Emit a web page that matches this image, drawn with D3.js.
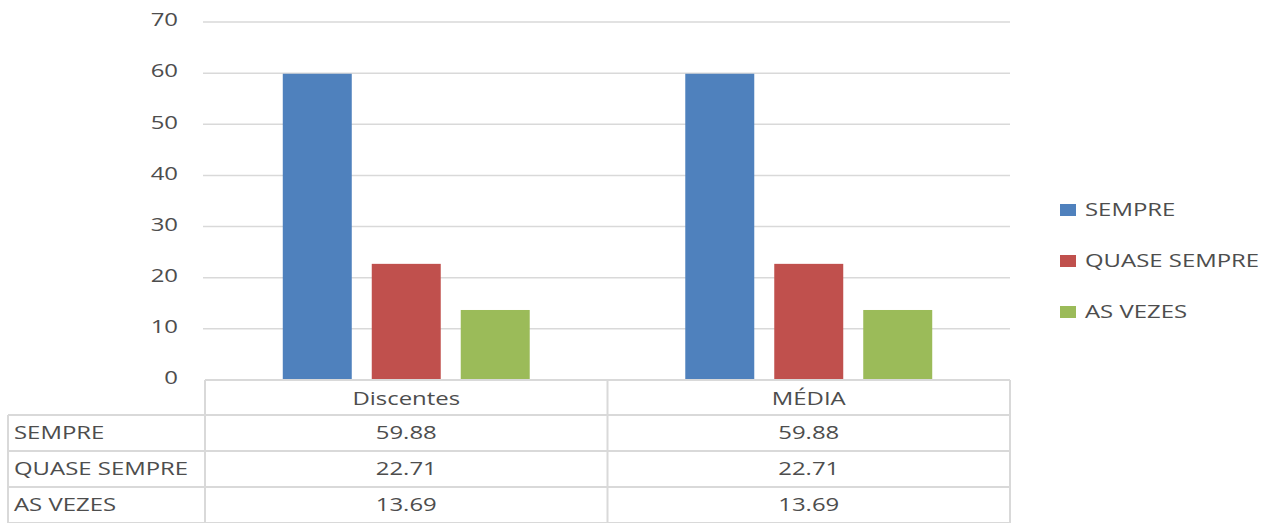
<!DOCTYPE html>
<html lang="pt">
<head>
<meta charset="utf-8">
<title>SEMPRE / QUASE SEMPRE / AS VEZES</title>
<script src="https://cdn.jsdelivr.net/npm/d3@7/dist/d3.min.js"></script>
<style>
    body { margin: 0; background: #fff; }
    text { font-family: "Open Sans", "Liberation Sans", sans-serif; fill: #4d4d4d; font-size: 18px; }
    .grid line { stroke: #d9d9d9; stroke-width: 1.5; }
    .tbl line { stroke: #d9d9d9; stroke-width: 2; }
</style>
</head>
<body>
<div id="chart"></div>
<script>
var categories = ["Discentes", "MÉDIA"];
var series = ["SEMPRE", "QUASE SEMPRE", "AS VEZES"];
var sempre = [59.88, 59.88];
var quaseSempre = [22.71, 22.71];
var asVezes = [13.69, 13.69];
var yTicks = [0, 10, 20, 30, 40, 50, 60, 70];
var colors = ["#4f81bd", "#c0504d", "#9bbb59"];

var values = [sempre, quaseSempre, asVezes];

var width = 1277, height = 523;
var plotLeft = 205, plotRight = 1010, plotTop = 22, plotBottom = 380;
var rowH = 36, headH = 35, labelLeft = 8;
var sx = 1.33; // the original text is drawn wide

var svg = d3.select("#chart").append("svg")
    .attr("width", width)
    .attr("height", height);

var x0 = d3.scaleBand().domain(categories).range([plotLeft, plotRight]);
var x1 = d3.scaleBand().domain(series)
    .range([0, x0.bandwidth()])
    .paddingInner(0.2247)
    .paddingOuter(0.874);
var y = d3.scaleLinear().domain([0, 70]).range([plotBottom, plotTop]);
var color = d3.scaleOrdinal().domain(series).range(colors);

function place(fx, fy) {
    return function(d, i) {
        return "translate(" + fx(d, i) + "," + fy(d, i) + ") scale(" + sx + ",1)";
    };
}

// gridlines
svg.append("g").attr("class", "grid")
    .selectAll("line")
    .data(yTicks.filter(function(d) { return d > 0; }))
    .enter().append("line")
    .attr("x1", plotLeft - 2).attr("x2", plotRight)
    .attr("y1", function(d) { return y(d); })
    .attr("y2", function(d) { return y(d); });

// y labels
svg.append("g").selectAll("text")
    .data(yTicks)
    .enter().append("text")
    .attr("transform", place(function() { return 178; }, function(d) { return y(d) - 2; }))
    .attr("dy", "0.35em")
    .attr("text-anchor", "end")
    .text(function(d) { return d; });

// bars
var bars = [];
series.forEach(function(s, i) {
    categories.forEach(function(c, j) {
        bars.push({ series: s, cat: c, value: values[i][j] });
    });
});

svg.append("g").selectAll("rect")
    .data(bars)
    .enter().append("rect")
    .attr("x", function(d) { return x0(d.cat) + x1(d.series); })
    .attr("y", function(d) { return y(d.value); })
    .attr("width", x1.bandwidth())
    .attr("height", function(d) { return y(0) - y(d.value); })
    .attr("fill", function(d) { return color(d.series); });

// data table
var tbl = svg.append("g").attr("class", "tbl");
var tblBottom = plotBottom + headH + rowH * series.length;

tbl.append("line").attr("x1", plotLeft).attr("x2", plotRight).attr("y1", plotBottom).attr("y2", plotBottom);
series.forEach(function(s, i) {
    var yy = plotBottom + headH + rowH * i;
    tbl.append("line").attr("x1", labelLeft).attr("x2", plotRight).attr("y1", yy).attr("y2", yy);
});
tbl.append("line").attr("x1", labelLeft).attr("x2", plotRight).attr("y1", tblBottom).attr("y2", tblBottom);

tbl.append("line").attr("x1", labelLeft).attr("x2", labelLeft).attr("y1", plotBottom + headH).attr("y2", tblBottom);
[plotLeft].concat(categories.map(function(c) { return x0(c) + x0.bandwidth(); })).forEach(function(xx) {
    tbl.append("line").attr("x1", xx).attr("x2", xx).attr("y1", plotBottom).attr("y2", tblBottom);
});

// header texts
tbl.selectAll("text.head")
    .data(categories)
    .enter().append("text")
    .attr("class", "head")
    .attr("transform", place(function(d) { return x0(d) + x0.bandwidth() / 2; },
                             function() { return plotBottom + headH / 2 + 1; }))
    .attr("dy", "0.35em")
    .attr("text-anchor", "middle")
    .text(function(d) { return d; });

// row labels
tbl.selectAll("text.rowlab")
    .data(series)
    .enter().append("text")
    .attr("class", "rowlab")
    .attr("transform", place(function() { return labelLeft + 6; },
                             function(d, i) { return plotBottom + headH + rowH * i + rowH / 2; }))
    .attr("dy", "0.35em")
    .text(function(d) { return d; });

// cell values
tbl.selectAll("text.cell")
    .data(bars)
    .enter().append("text")
    .attr("class", "cell")
    .attr("transform", place(function(d) { return x0(d.cat) + x0.bandwidth() / 2; },
                             function(d) { return plotBottom + headH + rowH * series.indexOf(d.series) + rowH / 2; }))
    .attr("dy", "0.35em")
    .attr("text-anchor", "middle")
    .text(function(d) { return d.value.toFixed(2); });

// legend
var legend = svg.append("g").selectAll("g")
    .data(series)
    .enter().append("g")
    .attr("transform", function(d, i) { return "translate(1060," + (210 + i * 51) + ")"; });

legend.append("rect")
    .attr("x", 0).attr("y", -6)
    .attr("width", 16).attr("height", 12)
    .attr("fill", function(d) { return color(d); });

legend.append("text")
    .attr("transform", "translate(25,0) scale(" + sx + ",1)")
    .attr("dy", "0.35em")
    .text(function(d) { return d; });
</script>
</body>
</html>
